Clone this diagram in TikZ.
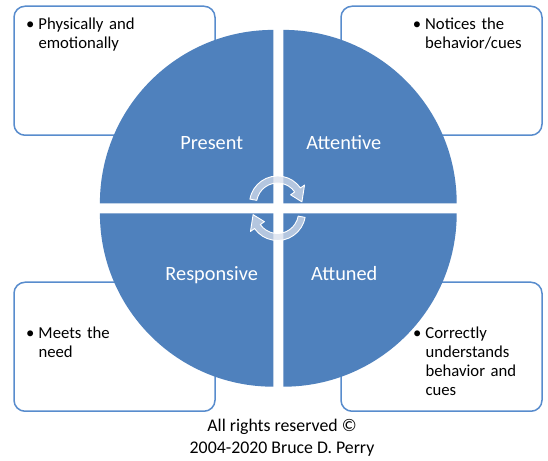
\documentclass[tikz,border=0pt]{standalone}
\usepackage{fontspec}
\setmainfont{Carlito}
\definecolor{qblue}{RGB}{79,129,189}
\definecolor{boxline}{RGB}{88,140,205}
\definecolor{arrowfill}{RGB}{215,222,235}
\tikzset{
  infobox/.style={draw=boxline, line width=1.5pt, fill=white, rounded corners=11pt,
    minimum width=201pt, minimum height=129pt, inner sep=0pt},
  quadrant/.style={fill=qblue},
  qlabel/.style={text=white, inner sep=0pt, font=\fontsize{20.3pt}{24pt}\selectfont},
  bullettext/.style={inner sep=0pt, text width=115pt, align=left,
    font=\fontsize{16.7pt}{19.2pt}\selectfont},
  rotarrow/.style={fill=arrowfill, fill opacity=0.75, draw=white, line width=0.9pt, line join=round}
}
\begin{document}
\begin{tikzpicture}[x=1pt,y=1pt]
\useasboundingbox (0,0) rectangle (548,460);
\fill[white] (0,0) rectangle (548,460);
% boxes
\node[infobox] (tlbox) at (114.5,389.25) {};
\node[infobox] (trbox) at (441.5,389.25) {};
\node[infobox] (blbox) at (114.5,113.25) {};
\node[infobox] (brbox) at (441.5,113.25) {};
% quadrants
\fill[quadrant] (273.3,256.7) -- ++(0,173.4) arc[start angle=90, end angle=180, radius=173.4] -- cycle;
\fill[quadrant] (283.3,256.7) -- ++(173.4,0) arc[start angle=0, end angle=90, radius=173.4] -- cycle;
\fill[quadrant] (273.3,246.7) -- ++(-173.4,0) arc[start angle=180, end angle=270, radius=173.4] -- cycle;
\fill[quadrant] (283.3,246.7) -- ++(0,-173.4) arc[start angle=270, end angle=360, radius=173.4] -- cycle;
% circular arrows
\begin{scope}[shift={(277.5,256)}]
  \path[rotarrow] (170:28) arc[start angle=170, end angle=35, radius=28] -- (35:33) -- (5:24.5) -- (35:16) -- (35:21) arc[start angle=35, end angle=170, radius=21] -- cycle;
\end{scope}
\begin{scope}[shift={(277.5,247.5)}, rotate=180]
  \path[rotarrow] (170:28) arc[start angle=170, end angle=35, radius=28] -- (35:33) -- (5:24.5) -- (35:16) -- (35:21) arc[start angle=35, end angle=170, radius=21] -- cycle;
\end{scope}
% quadrant labels
\node[qlabel, anchor=base] (present) at (211.7,310.7) {Present};
\node[qlabel, anchor=base] (attentive) at (343.7,310.7) {Attentive};
\node[qlabel, anchor=base] (responsive) at (211.7,179.3) {Responsive};
\node[qlabel, anchor=base] (attuned) at (344.3,179.3) {Attuned};
% bullet texts
\node[bullettext, anchor=base west] (tltext) at (38.3,430.7) {\llap{\textbullet\hspace{4pt}}Physically and\\emotionally};
\node[bullettext, anchor=base west] (trtext) at (425,430.7) {\llap{\textbullet\hspace{4pt}}Notices the\\behavior/cues};
\node[bullettext, anchor=base west] (bltext) at (38.3,121.7) {\llap{\textbullet\hspace{4pt}}Meets the\\need};
\node[bullettext, anchor=base west] (brtext) at (425.3,121.7) {\llap{\textbullet\hspace{4pt}}Correctly\\understands\\behavior and\\cues};
% copyright
\node[anchor=base, align=center, inner sep=0pt, font=\fontsize{17.8pt}{21.6pt}\selectfont] (copyright) at (282,6.7) {All rights reserved ©\\2004-2020 Bruce D. Perry};
\end{tikzpicture}
\end{document}
